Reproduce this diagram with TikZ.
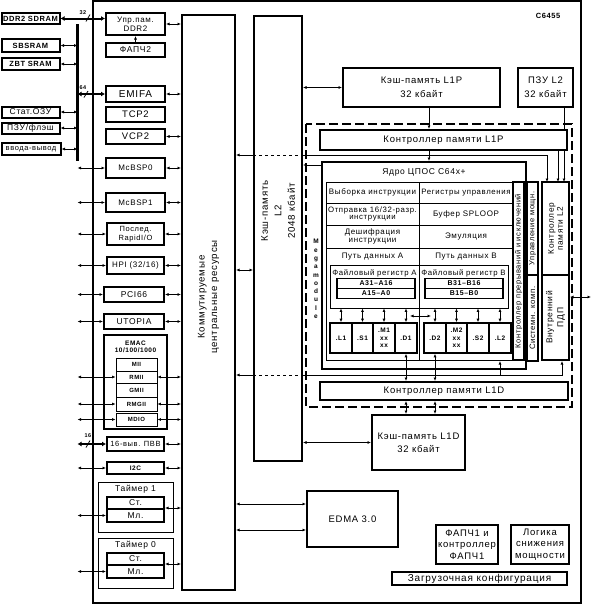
\documentclass[tikz,border=0pt]{standalone}
\usepackage{fontspec}
\setmainfont{Liberation Sans}[LetterSpace=8]
\usetikzlibrary{arrows.meta}

\newcommand{\fs}[2]{\fontsize{#1}{#2}\selectfont}

\begin{document}
\begin{tikzpicture}[x=1pt, y=-1pt,
  >={Latex[length=3.5pt,width=3pt]},
  sz/.style 2 args={minimum width=#1pt, minimum height=#2pt},
  blk/.style={draw, line width=2pt, fill=white, inner sep=0pt, align=center, font=\fs{8}{9}},
  ext/.style={blk, font=\bfseries\fs{7.5}{8}},
  cell/.style={draw, line width=0.9pt, fill=white, inner sep=0pt, align=center, font=\fs{8}{8.5}},
  reg/.style={draw, line width=1.2pt, fill=white, inner sep=0pt, font=\bfseries\fs{7}{7}, sz={78}{10}},
  unit/.style={draw, line width=1.6pt, fill=white, inner sep=0pt, align=center, font=\bfseries\fs{6.5}{7.5}, sz={22}{30}},
  vtxt/.style={rotate=90, align=center, inner sep=0pt},
  lbl/.style={inner sep=0pt, align=center},
  con/.style={line width=0.8pt},
  wide/.style={line width=2pt, >={Latex[length=4pt,width=5pt]}},
  tag/.style={font=\bfseries\fs{5.5}{6}, inner sep=0pt}]

  \useasboundingbox (0,0) rectangle (592,606);

  % Chip outline and megamodule
  \draw[line width=2.4pt] (93,1) rectangle (581,603);
  \draw[line width=2pt, dash pattern=on 9pt off 4pt] (306,124) rectangle (572,407);
  \node[lbl, font=\bfseries\fs{7.5}{8}] (chipname) at (548,16) {C6455};
  \node[lbl, font=\bfseries\fs{6.5}{8.3}] (megalbl) at (316,279) {M\\e\\g\\a\\m\\o\\d\\u\\l\\e};

  % Bend points
  \coordinate (busT) at (77.5,24);
  \coordinate (busB) at (77.5,161);
  \coordinate (l2cA) at (547,182);
  \coordinate (l2cB) at (558,182);
  \coordinate (l2cC) at (564,182);
  \coordinate (coreB) at (500,361);
  \coordinate (idmaB) at (562,361);
  \coordinate (outR) at (591,297);
  \coordinate (xA) at (410,316);
  \coordinate (xB) at (431,316);
  \coordinate (l1px) at (429,0);

  % External memories
  \node[ext, sz={58}{11}] (sdram) at (30.5,18.5) {DDR2 SDRAM};
  \node[ext, sz={58}{13}] (sbsram) at (30.5,45.5) {SBSRAM};
  \node[ext, sz={58}{12}] (zbt) at (30.5,64) {ZBT SRAM};
  \node[ext, font=\fs{8.5}{9}, sz={58}{11}] (sram) at (30.5,112) {Стат.ОЗУ};
  \node[ext, font=\fs{8.5}{9}, sz={58}{11}] (flash) at (30.5,128) {ПЗУ/флэш};
  \node[ext, font=\fs{7.5}{9}, sz={59}{12}] (extio) at (31,149) {ввода-вывод};

  % Peripherals
  \node[blk, sz={59}{22}] (ddrc) at (135.5,24) {Упр.пам.\\DDR2};
  \node[blk, font=\fs{8.5}{9}, sz={59}{14}] (pll2) at (135.5,50) {ФАПЧ2};
  \node[blk, font=\fs{10}{10}, sz={59}{16}] (emifa) at (135.5,94) {EMIFA};
  \node[blk, font=\fs{9.5}{10}, sz={59}{15}] (tcp2) at (135.5,114.5) {TCP2};
  \node[blk, font=\fs{9.5}{10}, sz={59}{15}] (vcp2) at (135.5,136.5) {VCP2};
  \node[blk, sz={59}{20}] (mcbsp0) at (135.5,168) {McBSP0};
  \node[blk, sz={59}{19}] (mcbsp1) at (135.5,202.5) {McBSP1};
  \node[blk, font=\fs{7.5}{8.5}, sz={57}{22}] (srio) at (135.5,234) {Послед.\\RapidI/O};
  \node[blk, sz={57}{17}] (hpi) at (135.5,265.5) {HPI (32/16)};
  \node[blk, font=\fs{8.5}{9}, sz={60}{15}] (pci) at (134,294.5) {PCI66};
  \node[blk, font=\fs{8.5}{9}, sz={60}{15}] (utopia) at (134,321.5) {UTOPIA};
  \node[blk, sz={63}{94}] (emac) at (135.5,382) {};
  \node[lbl, font=\bfseries\fs{6.5}{7.5}] (emaclbl) at (135.5,347) {EMAC\\10/100/1000};
  \node[cell, font=\bfseries\fs{6}{7}, sz={41}{13}] (mii) at (136.5,364.5) {MII};
  \node[cell, font=\bfseries\fs{6}{7}, sz={41}{12}] (rmii) at (136.5,377) {RMII};
  \node[cell, font=\bfseries\fs{6}{7}, sz={41}{14}] (gmii) at (136.5,390) {GMII};
  \node[cell, font=\bfseries\fs{6}{7}, sz={41}{14}] (rmgii) at (136.5,404) {RMGII};
  \node[cell, font=\bfseries\fs{6}{7}, sz={41}{13}] (mdio) at (136.5,419.5) {MDIO};
  \node[blk, font=\fs{7.5}{9}, sz={57}{14}] (gpio) at (135.5,444) {16-выв. ПВВ};
  \node[blk, font=\bfseries\fs{6.5}{7}, sz={57}{12}] (i2c) at (135.5,468) {I2C};

  % Timers
  \node[cell, sz={75}{50}] (tmr1) at (135.5,507) {};
  \node[lbl, font=\fs{8.5}{9}] (tmr1lbl) at (135.5,489) {Таймер 1};
  \node[blk, font=\fs{8.5}{9}, sz={57}{12}] (st1) at (135.5,503) {Ст.};
  \node[blk, font=\fs{8.5}{9}, sz={57}{13}] (ml1) at (135.5,515.5) {Мл.};
  \node[cell, sz={75}{50}] (tmr0) at (135.5,563) {};
  \node[lbl, font=\fs{8.5}{9}] (tmr0lbl) at (135.5,545) {Таймер 0};
  \node[blk, font=\fs{8.5}{9}, sz={57}{12}] (st0) at (135.5,559) {Ст.};
  \node[blk, font=\fs{8.5}{9}, sz={57}{13}] (ml0) at (135.5,571.5) {Мл.};

  % Switched resources and L2
  \node[blk, sz={53}{575}] (scr) at (208.5,302.5) {};
  \node[vtxt, font=\fs{9.7}{12.5}] (scrlbl) at (208.5,297) {Коммутируемые\\центральные ресурсы};
  \node[blk, sz={48}{445}] (l2) at (278,238.5) {};
  \node[vtxt, font=\fs{9.7}{13.5}] (l2lbl) at (278,211) {Кэш-память\\L2\\2048 кбайт};

  % L1P side
  \node[blk, font=\fs{9.5}{14}, sz={157}{39}] (l1p) at (421.5,87.5) {Кэш-память L1P\\32 кбайт};
  \node[blk, font=\fs{9.5}{14}, sz={55}{39}] (rom) at (545.5,87.5) {ПЗУ L2\\32 кбайт};
  \draw[con,->] (rom.south -| l2cC) -- (l2cC);
  \node[blk, font=\fs{9.5}{10}, sz={247}{20}] (l1pc) at (443.5,140) {Контроллер памяти L1P};

  % CPU core
  \node[blk, sz={204}{207}] (core) at (424,265.5) {};
  \node[lbl, font=\fs{8.5}{9}] (corelbl) at (424,172.5) {Ядро ЦПОС C64x+};
  \draw[line width=1pt] (326,182) rectangle (513,360);
  \draw[line width=1pt] (419,182) -- (419,360);
  \draw[line width=1pt] (326,203) -- (513,203) (326,225) -- (513,225) (326,248) -- (513,248);
  \node[lbl, font=\fs{8}{8}] (fetch) at (372.5,192.5) {Выборка инструкции};
  \node[lbl, font=\fs{7.8}{8}] (ctrlreg) at (466,192.5) {Регистры управления};
  \node[lbl, font=\fs{7.8}{7.5}] (dispatch) at (372.5,214) {Отправка 16/32-разр.\\инструкции};
  \node[lbl, font=\fs{8}{8}] (sploop) at (466,214) {Буфер SPLOOP};
  \node[lbl, font=\fs{8}{8.5}] (decode) at (372.5,236.5) {Дешифрация\\инструкции};
  \node[lbl, font=\fs{8}{8}] (emu) at (466,236.5) {Эмуляция};
  \node[lbl, font=\fs{8}{8}] (pathA) at (372.5,257) {Путь данных A};
  \node[lbl, font=\fs{8}{8}] (pathB) at (466,257) {Путь данных B};

  % Register files
  \node[cell, sz={89}{43}] (rfA) at (374.5,286.5) {};
  \node[cell, sz={89}{43}] (rfB) at (463.5,286.5) {};
  \node[lbl, font=\fs{7.8}{8}] (rfAlbl) at (374.5,273) {Файловый регистр A};
  \node[lbl, font=\fs{7.8}{8}] (rfBlbl) at (463.5,273) {Файловый регистр B};
  \node[reg] (a31) at (376,283.5) {A31--A16};
  \node[reg] (a15) at (376,293.5) {A15--A0};
  \node[reg] (b31) at (464,283.5) {B31--B16};
  \node[reg] (b15) at (464,293.5) {B15--B0};

  % Functional units
  \node[unit] (l1u) at (341,338) {.L1};
  \node[unit, sz={21}{30}] (s1u) at (362.5,338) {.S1};
  \node[unit] (m1u) at (384,338) {.M1\\xx\\xx};
  \node[unit] (d1u) at (406,338) {.D1};
  \node[unit] (d2u) at (435,338) {.D2};
  \node[unit, sz={21}{30}] (m2u) at (456.5,338) {.M2\\xx\\xx};
  \node[unit] (s2u) at (478,338) {.S2};
  \node[unit] (l2u) at (500,338) {.L2};

  % Side blocks of the megamodule
  \node[blk, line width=1.2pt, sz={11}{178}] (intc) at (518.5,271) {};
  \node[vtxt, font=\fs{7.5}{9}] (intclbl) at (intc) {Контроллер прерываний и исключений};
  \node[blk, line width=1.4pt, sz={11}{93}] (pwr) at (532.5,228.5) {};
  \node[vtxt, font=\fs{7.5}{9}] (pwrlbl) at (pwr) {Управление мощн.};
  \node[blk, line width=1.4pt, sz={11}{86}] (sys) at (532.5,318) {};
  \node[vtxt, font=\fs{7.8}{9}] (syslbl) at (sys) {Системн. комп.};
  \node[blk, sz={27}{93}] (l2c) at (555.5,228.5) {};
  \node[vtxt, font=\fs{8.3}{9}] (l2clbl) at (l2c) {Контроллер\\памяти L2};
  \node[blk, sz={27}{85}] (idma) at (555.5,317.5) {};
  \node[vtxt, font=\fs{8.5}{11}] (idmalbl) at (idma) {Внутренний\\ПДП};

  % L1D side and others
  \node[blk, font=\fs{9.5}{10}, sz={248}{18}] (l1dc) at (444,391) {Контроллер памяти L1D};
  \node[blk, font=\fs{9.5}{13}, sz={93}{55}] (l1d) at (418.5,442.5) {Кэш-память L1D\\32 кбайт};
  \node[blk, font=\fs{9.5}{10}, sz={91}{56}] (edma) at (352.5,519) {EDMA 3.0};
  \node[blk, font=\fs{9.5}{11.5}, sz={62}{39}] (pll1) at (467,544.5) {ФАПЧ1 и\\контроллер\\ФАПЧ1};
  \node[blk, font=\fs{9.5}{11.5}, sz={58}{39}] (pwrlog) at (540,544.5) {Логика\\снижения\\мощности};
  \node[blk, font=\fs{10}{10}, sz={175}{13}] (boot) at (479.5,578.5) {Загрузочная конфигурация};

  % External buses
  \draw[wide,<->] (sdram.east) -- (sdram.east -| ddrc.west);
  \draw[con] (86,21.5) -- (90,14.5);
  \node[tag] (w32) at (83,12.5) {32};
  \draw[con,<->] (sbsram.east) -- (sbsram.east -| busT);
  \draw[con,<->] (zbt.east) -- (zbt.east -| busT);
  \draw[con,<->] (sram.east) -- (sram.east -| busT);
  \draw[con,<->] (flash.east) -- (flash.east -| busT);
  \draw[con,<->] (extio.east) -- (extio.east -| busT);
  \draw[line width=3pt] (busT) -- (busB);
  \draw[wide,<->] (emifa.west -| busT) -- (emifa.west);
  \draw[con] (84,97.5) -- (88,91);
  \node[tag] (w64) at (83,88) {64};
  \draw[con,->] (pll2.north) -- (ddrc.south);

  % Peripheral pins
  \draw[con,<->] (mcbsp0.west -| busT) -- (mcbsp0.west);
  \draw[con,<->] (mcbsp1.west -| busT) -- (mcbsp1.west);
  \draw[con,<->] (srio.west -| busT) -- (srio.west);
  \draw[con,<->] (hpi.west -| busT) -- (hpi.west);
  \draw[con,<->] (pci.west -| busT) -- (pci.west);
  \draw[con,<->] (utopia.west -| busT) -- (utopia.west);
  \draw[con,<->] (rmii.west -| busT) -- (rmii.west);
  \draw[con,<->] (rmgii.west -| busT) -- (rmgii.west);
  \draw[con,<->] (mdio.west -| busT) -- (mdio.west);
  \draw[wide,<->] (gpio.west -| busT) -- (gpio.west);
  \draw[con] (86,447.5) -- (90,440.5);
  \node[tag] (w16) at (88,436) {16};
  \draw[con,<->] (i2c.west -| busT) -- (i2c.west);
  \draw[con,<->] (ml1.west -| busT) -- (ml1.west);
  \draw[con,<->] (ml0.west -| busT) -- (ml0.west);

  % Peripherals to switched resources
  \draw[con,<->] (ddrc.east) -- (ddrc.east -| scr.west);
  \draw[con,<->] (emifa.east) -- (emifa.east -| scr.west);
  \draw[con,<->] (vcp2.east) -- (vcp2.east -| scr.west);
  \draw[con,<->] (mcbsp0.east) -- (mcbsp0.east -| scr.west);
  \draw[con,<->] (mcbsp1.east) -- (mcbsp1.east -| scr.west);
  \draw[con,<->] (srio.east) -- (srio.east -| scr.west);
  \draw[con,<->] (hpi.east) -- (hpi.east -| scr.west);
  \draw[con,<->] (pci.east) -- (pci.east -| scr.west);
  \draw[con,<->] (utopia.east) -- (utopia.east -| scr.west);
  \draw[con,<->] (rmii.east) -- (rmii.east -| scr.west);
  \draw[con,<->] (rmgii.east) -- (rmgii.east -| scr.west);
  \draw[con,<->] (mdio.east) -- (mdio.east -| scr.west);
  \draw[con,<->] (gpio.east) -- (gpio.east -| scr.west);
  \draw[con,<->] (i2c.east) -- (i2c.east -| scr.west);
  \draw[con,<->] (ml1.north east) -- (ml1.north east -| scr.west);
  \draw[con,<->] (ml0.north east) -- (ml0.north east -| scr.west);

  % Memory paths
  \draw[con,<->] (scr.east |- 0,270) -- (l2.west |- 0,270);
  \draw[con,<->] (l2.east |- l1p.west) -- (l1p.west);
  \draw[con,<->] (l2.east |- l1d.west) -- (l1d.west);
  \draw[con,<->] (scr.east |- 0,504) -- (edma.west |- 0,504);
  \draw[con,<->] (scr.east |- 0,530) -- (edma.west |- 0,530);
  \draw[con,->] (l1px |- l1p.south) -- (l1px |- l1pc.north);
  \draw[con,->] (l1px |- l1pc.south) -- (l1px |- core.north);
  \draw[con,->] (l2cB |- l1pc.south) -- (l2cB);

  % Lines through L2 to the megamodule
  \draw[con,<-] (scr.east |- 0,155) -- (l2.west |- 0,155);
  \draw[con,dashed] (l2.west |- 0,155) -- (l2.east |- 0,155);
  \draw[con,->] (l2.east |- 0,155) -| (l2cA);
  \draw[con,<-] (l2.east |- 0,165) -- (core.west |- 0,165);
  \draw[con,<-] (scr.east |- 0,375) -- (l2.west |- 0,375);
  \draw[con,dashed] (l2.west |- 0,375) -- (l2.east |- 0,375);
  \draw[con,->] (l2.east |- 0,375) -| (idmaB);
  \draw[con,->] (coreB |- 0,375) -- (coreB);
  \draw[con,<->] (idma.east |- outR) -- (outR);

  % Data paths
  \draw[con,<->] (l1u.north |- rfA.south) -- (l1u.north);
  \draw[con,<->] (s1u.north |- rfA.south) -- (s1u.north);
  \draw[con,<->] (m1u.north |- rfA.south) -- (m1u.north);
  \draw[con,<->] (d1u.north |- rfA.south) -- (d1u.north);
  \draw[con,<->] (d2u.north |- rfB.south) -- (d2u.north);
  \draw[con,<->] (m2u.north |- rfB.south) -- (m2u.north);
  \draw[con,<->] (s2u.north |- rfB.south) -- (s2u.north);
  \draw[con,<->] (l2u.north |- rfB.south) -- (l2u.north);
  \draw[con,<->] (xA) -- (xB);
  \draw[con,<->] (d1u.south) -- (d1u.south |- l1dc.north);
  \draw[con,<->] (d2u.south) -- (d2u.south |- l1dc.north);
  \draw[con,<->] (d1u.south |- l1dc.south) -- (d1u.south |- l1d.north);
  \draw[con,<->] (d2u.south |- l1dc.south) -- (d2u.south |- l1d.north);

\end{tikzpicture}
\end{document}
